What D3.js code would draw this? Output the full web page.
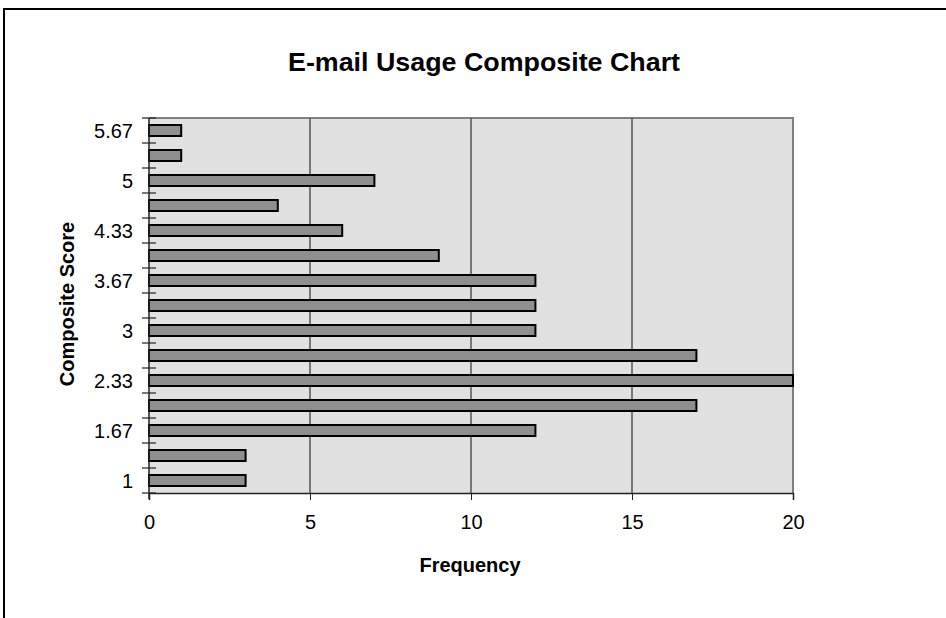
<!DOCTYPE html>
<html><head><meta charset="utf-8">
<script src="https://cdn.jsdelivr.net/npm/d3@7"></script>
<style>body{margin:0;background:#fff}svg{display:block}</style>
</head><body>
<svg id="c" width="946" height="618"></svg>
<script>
const categories = ["1","1.33","1.67","2","2.33","2.67","3","3.33","3.67","4","4.33","4.67","5","5.33","5.67"];
const frequencies = [3,3,12,17,20,17,12,12,12,9,6,4,7,1,1];
const yTickLabels = ["1","1.67","2.33","3","3.67","4.33","5","5.67"];
const xTicks = [0,5,10,15,20];

const svg = d3.select("#c");
const font = "Liberation Sans, Arial, sans-serif";
const L = 149, R = 793, T = 118, B = 493;

// outer frame
svg.append("path").attr("d","M4,630 L4,9 L960,9").attr("fill","none").attr("stroke","#000").attr("stroke-width",2);

const x = d3.scaleLinear().domain([0,20]).range([L,R]);
const y = d3.scaleBand().domain(categories).range([B,T]).paddingInner(0.56).paddingOuter(0.28);
const yb = d3.scaleBand().domain(categories).range([B,T]);

svg.append("rect").attr("x",L).attr("y",T).attr("width",R-L).attr("height",B-T).attr("fill","#e1e1e1");
svg.append("path").attr("d",`M${L},${T} L${R},${T} L${R},${B}`).attr("fill","none").attr("stroke","#808080").attr("stroke-width",2);

// gridlines
svg.append("g").selectAll("line").data(xTicks.filter(d=>d>0&&d<20)).join("line")
  .attr("x1",d=>x(d)).attr("x2",d=>x(d)).attr("y1",T).attr("y2",B)
  .attr("stroke","#555").attr("stroke-width",1.5);

// bars
svg.append("g").selectAll("rect").data(frequencies).join("rect")
  .attr("x",x(0)).attr("y",(d,i)=>y(categories[i]))
  .attr("width",d=>x(d)-x(0)).attr("height",y.bandwidth())
  .attr("fill","#8f8f8f").attr("stroke","#000").attr("stroke-width",2);

// x axis
const xa = svg.append("g").attr("transform",`translate(0,${B})`)
  .call(d3.axisBottom(x).tickValues(xTicks).tickSize(7).tickPadding(17).tickFormat(d3.format("d")));
xa.select(".domain").attr("stroke","#222").attr("stroke-width",1.5);
xa.selectAll(".tick line").attr("stroke","#222");
xa.selectAll("text").attr("font-family",font).attr("font-size",20).attr("fill","#000").attr("dy","0.6em");

// y axis
const boundaries = categories.map(c=>yb(c)).concat([B]);
const ya = svg.append("g");
ya.append("line").attr("x1",L).attr("x2",L).attr("y1",T).attr("y2",B+6).attr("stroke","#222").attr("stroke-width",1.5);
ya.selectAll("line.tk").data(boundaries).join("line").attr("class","tk")
  .attr("x1",L-7).attr("x2",L+7).attr("y1",d=>d).attr("y2",d=>d).attr("stroke","#222").attr("stroke-width",1.2);
ya.selectAll("text").data(yTickLabels).join("text")
  .attr("x",L-16).attr("y",d=>yb(d)+yb.bandwidth()/2)
  .attr("dy","0.36em").attr("text-anchor","end")
  .attr("font-family",font).attr("font-size",20).text(d=>d);

// titles
svg.append("text").attr("x",484).attr("y",71).attr("text-anchor","middle")
  .attr("font-family",font).attr("font-weight","bold").attr("font-size",25)
  .attr("textLength",392).attr("lengthAdjust","spacingAndGlyphs").text("E-mail Usage Composite Chart");
svg.append("text").attr("x",470).attr("y",572).attr("text-anchor","middle")
  .attr("font-family",font).attr("font-weight","bold").attr("font-size",20).text("Frequency");
svg.append("text").attr("transform","translate(74,304) rotate(-90)").attr("text-anchor","middle")
  .attr("font-family",font).attr("font-weight","bold").attr("font-size",20).text("Composite Score");
</script>
</body></html>
